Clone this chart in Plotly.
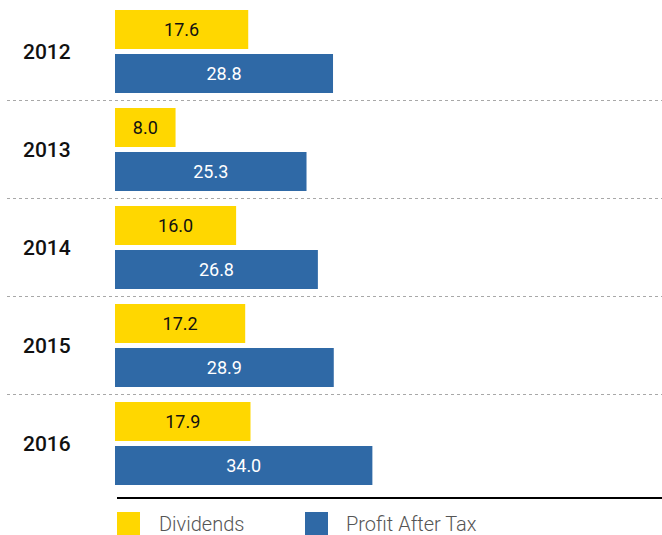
import plotly.graph_objects as go

years = ["2012", "2013", "2014", "2015", "2016"]
dividends = [17.6, 8.0, 16.0, 17.2, 17.9]
profit = [28.8, 25.3, 26.8, 28.9, 34.0]
legend_names = ["Dividends", "Profit After Tax"]

YELLOW = "#FFD700"
BLUE = "#2F69A6"

W, H = 662, 535
L = 115
PLOT_BOTTOM = 497
B = H - PLOT_BOTTOM
plot_w = W - L
plot_h = PLOT_BOTTOM
px_per_unit = 7.57
xmax = plot_w / px_per_unit

pos = list(range(len(years)))
group_px = 98.0
c0 = 51.5
y_top = -c0 / group_px
y_bot = (plot_h - c0) / group_px

fig = go.Figure()
fig.add_trace(go.Bar(
    y=pos, x=dividends, orientation="h", name=legend_names[0],
    marker=dict(color=YELLOW, line=dict(width=0)),
    text=[f"{v:.1f}" for v in dividends], textposition="inside",
    insidetextanchor="middle", constraintext="none",
    textfont=dict(family="Roboto", size=18, color="#111111"),
    showlegend=False, hoverinfo="skip",
))
fig.add_trace(go.Bar(
    y=pos, x=profit, orientation="h", name=legend_names[1],
    marker=dict(color=BLUE, line=dict(width=0)),
    text=[f"{v:.1f}" for v in profit], textposition="inside",
    insidetextanchor="middle", constraintext="none",
    textfont=dict(family="Roboto", size=18, color="#FFFFFF"),
    showlegend=False, hoverinfo="skip",
))

def px_to_paper_y(p):
    return (plot_h - p) / plot_h

def px_to_paper_x(p):
    return (p - L) / plot_w

shapes = []
# dotted separators between groups
for i in range(len(years) - 1):
    yv = i + 0.5
    shapes.append(dict(type="line", xref="paper", yref="y",
                       x0=px_to_paper_x(7), x1=1, y0=yv, y1=yv,
                       line=dict(color="#A8A8A8", width=1, dash="dot")))
# bottom axis line
shapes.append(dict(type="line", xref="paper", yref="paper",
                   x0=px_to_paper_x(117), x1=1,
                   y0=px_to_paper_y(498), y1=px_to_paper_y(498),
                   line=dict(color="#000000", width=2)))
# legend squares
for xs, col in [(117, YELLOW), (305, BLUE)]:
    shapes.append(dict(type="rect", xref="paper", yref="paper",
                       x0=px_to_paper_x(xs), x1=px_to_paper_x(xs + 23),
                       y0=px_to_paper_y(535), y1=px_to_paper_y(512),
                       fillcolor=col, line=dict(width=0)))

annotations = []
for i, yr in enumerate(years):
    annotations.append(dict(text=yr, xref="paper", yref="y",
                            x=px_to_paper_x(21), y=i, xanchor="left",
                            yanchor="middle", showarrow=False,
                            font=dict(family="Roboto", size=21,
                                      color="#111111", weight=500)))
for xs, name in [(157, legend_names[0]), (344, legend_names[1])]:
    annotations.append(dict(text=name, xref="paper", yref="paper",
                            x=px_to_paper_x(xs), y=px_to_paper_y(524),
                            xanchor="left", yanchor="middle", showarrow=False,
                            font=dict(family="Roboto", size=20,
                                      color="#555555", weight=300)))

fig.update_layout(
    width=W, height=H,
    margin=dict(l=L, r=0, t=0, b=B, pad=0),
    paper_bgcolor="white", plot_bgcolor="white",
    barmode="group", bargap=0.102, bargroupgap=0.114,
    xaxis=dict(range=[0, xmax], visible=False, fixedrange=True),
    yaxis=dict(range=[y_bot, y_top], visible=False, fixedrange=True),
    shapes=shapes, annotations=annotations,
    showlegend=False,
)

fig.write_html("out.html", config={"displayModeBar": False})
